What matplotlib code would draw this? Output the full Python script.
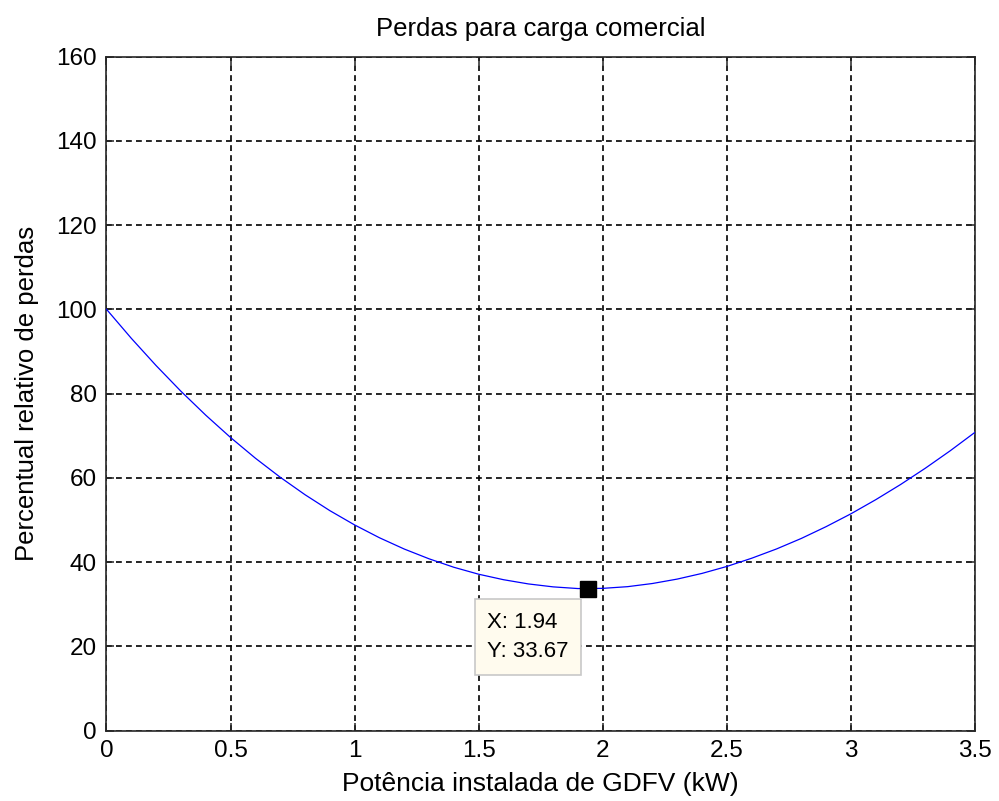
import matplotlib
matplotlib.use("Agg")
import matplotlib.pyplot as plt

# Installed PV power (kW) and relative losses (%)
potencia_kw = [0.0, 0.1, 0.2, 0.3, 0.4, 0.5, 0.6, 0.7, 0.8, 0.9,
               1.0, 1.1, 1.2, 1.3, 1.4, 1.5, 1.6, 1.7, 1.8, 1.9,
               2.0, 2.1, 2.2, 2.3, 2.4, 2.5, 2.6, 2.7, 2.8, 2.9,
               3.0, 3.1, 3.2, 3.3, 3.4, 3.5]
perdas_pct = [100.0, 93.11, 86.63, 80.54, 74.86, 69.56, 64.65, 60.13, 55.98, 52.20,
              48.80, 45.76, 43.08, 40.76, 38.75, 37.10, 35.80, 34.80, 34.10, 33.70,
              33.75, 34.15, 34.90, 35.95, 37.30, 38.95, 40.90, 43.10, 45.60, 48.40,
              51.45, 54.80, 58.40, 62.28, 66.41, 70.80]

# Highlighted point (minimum losses)
tip_x = 1.94
tip_y = 33.67

xticks = [0, 0.5, 1, 1.5, 2, 2.5, 3, 3.5]
xtick_labels = ["0", "0.5", "1", "1.5", "2", "2.5", "3", "3.5"]
yticks = [0, 20, 40, 60, 80, 100, 120, 140, 160]

plt.rcParams["font.family"] = ["Liberation Sans", "DejaVu Sans"]

fig = plt.figure(figsize=(9.99, 8.01), dpi=100, facecolor="white")
ax = fig.add_axes([0.1066, 0.088, 0.8694, 0.8414])

ax.plot(potencia_kw, perdas_pct, color="#0000ff", linewidth=0.9, zorder=3)

ax.set_xlim(0, 3.5)
ax.set_ylim(0, 160)
ax.set_xticks(xticks)
ax.set_xticklabels(xtick_labels)
ax.set_yticks(yticks)

ax.grid(True, color="black", linestyle=(0, (3.5, 2.5)), linewidth=1.2)
ax.set_axisbelow(True)

for s in ax.spines.values():
    s.set_linewidth(1.2)
    s.set_color("#262626")

ax.tick_params(direction="in", length=6, width=1.1, top=True, right=True,
               labelsize=17.5, pad=7, colors="#262626", labelcolor="black")

ax.set_title("Perdas para carga comercial", fontsize=18.5, pad=15)
ax.set_xlabel("Potência instalada de GDFV (kW)", fontsize=19, labelpad=7)
ax.set_ylabel("Percentual relativo de perdas", fontsize=18.5, labelpad=12)

# Data tip marker and label
ax.plot([tip_x], [tip_y], marker="s", markersize=11, color="black",
        markeredgecolor="black", zorder=5, clip_on=False)
ax.annotate(f"X: {tip_x:.2f}\nY: {tip_y:.2f}", xy=(tip_x, tip_y),
            xytext=(-101, -23), textcoords="offset pixels",
            ha="left", va="top", fontsize=16, linespacing=1.55,
            bbox=dict(boxstyle="square,pad=0.55", facecolor="#fffbee",
                      edgecolor="#c8c8c8", linewidth=1.2),
            zorder=6)

fig.savefig("out.png", dpi=100, facecolor="white")
